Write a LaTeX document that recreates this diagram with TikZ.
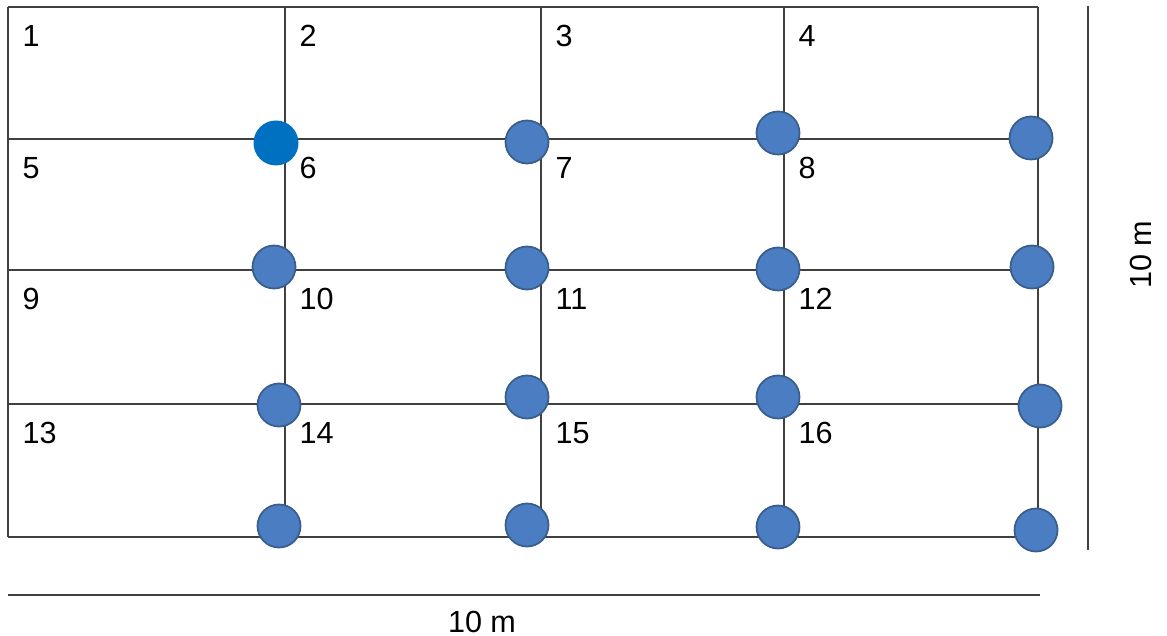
\documentclass[tikz,border=0pt]{standalone}
\usepackage{fontspec}
\setmainfont{Liberation Sans}
\definecolor{gridgray}{HTML}{404040}
\definecolor{plotblue}{HTML}{4A7DC2}
\definecolor{plotrim}{HTML}{3A5E8C}
\definecolor{pumpblue}{HTML}{0070C0}
\begin{document}
\begin{tikzpicture}
				\tikzset{
					grid line/.style={line width=0.6pt,color=gridgray},
					cell label/.style={anchor=west,inner sep=0pt,font=\fontsize{8.7}{10}\selectfont},
					sensor/.style={circle,fill=plotblue,draw=plotrim,line width=0.5pt,minimum size=0.43cm,inner sep=0pt},
					source/.style={circle,fill=pumpblue,minimum size=0.45cm,inner sep=0pt}
				}
				\useasboundingbox (0,0) rectangle (11.67,-6.36);
				% grid corners
				\foreach \i/\x in {0/0.08,1/2.85,2/5.41,3/7.84,4/10.38}{
					\foreach \j/\y in {0/-0.07,1/-1.39,2/-2.70,3/-4.04,4/-5.37}{
						\coordinate (g\i\j) at (\x,\y);
					}
				}
				\foreach \k in {0,...,4}{
					\draw[grid line] (g\k0) -- (g\k4);
					\draw[grid line] (g0\k) -- (g4\k);
				}
				% plot numbers
				\foreach \n in {1,...,16}{
					\pgfmathtruncatemacro{\c}{mod(\n-1,4)}
					\pgfmathtruncatemacro{\r}{(\n-1)/4}
					\node[cell label] (n\n) at ([shift={(0.14,-0.29)}]g\c\r) {\n};
				}
				% sampling points
				\node[source] (s0) at (2.76,-1.43) {};
				\foreach \p/\x/\y in {
					a/5.27/-1.42,b/7.78/-1.33,c/10.31/-1.38,
					d/2.74/-2.67,e/5.27/-2.68,f/7.78/-2.69,g/10.32/-2.67,
					h/2.79/-4.05,i/5.27/-3.97,j/7.78/-3.97,k/10.40/-4.06,
					l/2.79/-5.26,m/5.27/-5.25,o/7.78/-5.27,q/10.36/-5.30
				}{
					\node[sensor] (s\p) at (\x,\y) {};
				}
				% scale bars
				\coordinate (vt) at (10.88,-0.06);
				\coordinate (vb) at (10.88,-5.50);
				\coordinate (hl) at (0.08,-5.95);
				\coordinate (hr) at (10.40,-5.95);
				\draw[grid line] (vt) -- (vb);
				\draw[grid line] (hl) -- (hr);
				\node[font=\fontsize{8.7}{10}\selectfont,rotate=90] (vlab) at (11.41,-2.55) {10 m};
				\node[font=\fontsize{8.7}{10}\selectfont] (hlab) at (4.82,-6.22) {10 m};
\end{tikzpicture}
\end{document}
